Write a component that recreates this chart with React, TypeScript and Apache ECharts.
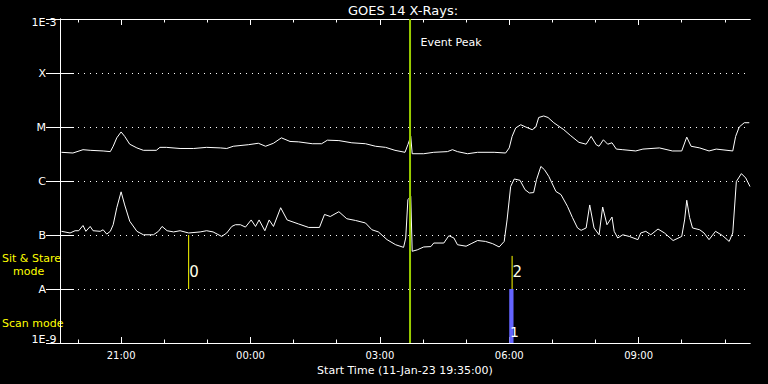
import React, { useEffect, useRef } from 'react';
import * as echarts from 'echarts';

const START_TIME = '19:35';
const SPAN_MINUTES = 960;
const chartTitle = 'GOES 14 X-Rays:';
const xAxisTitle = 'Start Time (11-Jan-23 19:35:00)';
const xMajorTickLabels = ['21:00', '00:00', '03:00', '06:00', '09:00'];
const xMinorTickTimes = ['20:00', '21:00', '22:00', '23:00', '00:00', '01:00', '02:00', '03:00', '04:00', '05:00', '06:00', '07:00', '08:00', '09:00', '10:00', '11:00'];
const yTickLabels = ['1E-9', 'A', 'B', 'C', 'M', 'X', '1E-3'];

// minutes after start time
const longTimes = [2, 18, 32, 42, 60, 70, 74, 79, 85, 90, 97, 107, 116, 134, 139, 148, 167, 186, 204, 223, 232, 241, 262, 276, 286, 297, 308, 320, 332, 351, 364, 372, 388, 406, 425, 439, 453, 466, 480, 484, 488, 490, 506, 520, 539, 546, 553, 567, 581, 604, 620, 625, 629, 634, 641, 648, 657, 662, 666, 673, 679, 687, 701, 710, 722, 732, 739, 746, 750, 756, 762, 768, 774, 783, 801, 811, 834, 852, 865, 872, 878, 890, 903, 913, 936, 940, 945, 952, 959];
const longFlux = [3.4e-6, 3.3e-6, 3.8e-6, 3.7e-6, 3.6e-6, 3.5e-6, 4.4e-6, 6.3e-6, 8.1e-6, 6.7e-6, 4.8e-6, 4.1e-6, 3.7e-6, 3.7e-6, 4.2e-6, 4.2e-6, 4.0e-6, 4.0e-6, 4.2e-6, 4.1e-6, 4.0e-6, 4.4e-6, 4.7e-6, 5.0e-6, 4.4e-6, 5.0e-6, 6.3e-6, 5.4e-6, 5.3e-6, 4.9e-6, 4.9e-6, 5.7e-6, 5.6e-6, 5.1e-6, 4.9e-6, 4.4e-6, 4.2e-6, 3.7e-6, 3.4e-6, 4.7e-6, 6.7e-6, 3.2e-6, 3.2e-6, 3.4e-6, 3.5e-6, 3.8e-6, 3.5e-6, 3.2e-6, 3.4e-6, 3.4e-6, 3.3e-6, 4.1e-6, 6.7e-6, 9.6e-6, 1.1e-5, 1.0e-5, 8.9e-6, 1.0e-5, 1.5e-5, 1.6e-5, 1.5e-5, 1.2e-5, 8.9e-6, 7.0e-6, 5.2e-6, 4.8e-6, 6.7e-6, 4.7e-6, 4.4e-6, 5.8e-6, 4.8e-6, 5.1e-6, 3.9e-6, 3.8e-6, 3.6e-6, 3.9e-6, 4.1e-6, 3.6e-6, 3.6e-6, 6.5e-6, 4.4e-6, 4.1e-6, 3.6e-6, 3.9e-6, 3.6e-6, 6.7e-6, 1.0e-5, 1.2e-5, 1.2e-5];

const shortTimes = [2, 14, 21, 26, 32, 36, 42, 46, 56, 60, 65, 70, 74, 79, 85, 90, 97, 107, 116, 130, 137, 142, 149, 158, 167, 179, 195, 204, 213, 225, 232, 239, 244, 251, 258, 266, 272, 277, 285, 291, 297, 307, 316, 332, 346, 361, 368, 376, 388, 399, 411, 425, 434, 443, 455, 467, 478, 481, 484, 488, 490, 497, 506, 516, 520, 534, 541, 548, 553, 565, 572, 581, 592, 602, 611, 618, 622, 627, 632, 640, 647, 653, 659, 663, 669, 674, 680, 690, 697, 706, 713, 720, 725, 732, 737, 743, 750, 755, 761, 768, 771, 776, 783, 792, 804, 808, 815, 822, 832, 841, 853, 865, 869, 872, 876, 880, 890, 896, 903, 912, 922, 931, 936, 941, 948, 954, 960];
const shortFlux = [1.17e-7, 1.09e-7, 1.2e-7, 1.2e-7, 1.5e-7, 1.17e-7, 1.44e-7, 1.2e-7, 1.17e-7, 1.25e-7, 1.04e-7, 1.17e-7, 1.55e-7, 3.2e-7, 6.3e-7, 3.6e-7, 1.8e-7, 1.17e-7, 1.01e-7, 1.01e-7, 1.17e-7, 1.44e-7, 1.2e-7, 1.14e-7, 1.2e-7, 1.09e-7, 1.14e-7, 1.2e-7, 1.14e-7, 9.4e-8, 1.09e-7, 1.44e-7, 1.55e-7, 1.55e-7, 1.4e-7, 1.9e-7, 1.44e-7, 1.9e-7, 1.2e-7, 1.9e-7, 1.44e-7, 3.2e-7, 1.9e-7, 1.6e-7, 1.38e-7, 1.38e-7, 2.4e-7, 2.2e-7, 2.7e-7, 2.0e-7, 1.86e-7, 1.67e-7, 1.25e-7, 1.14e-7, 8.2e-8, 6.6e-8, 5.9e-8, 8.8e-8, 4.5e-7, 5.2e-7, 5.0e-8, 5.3e-8, 6.0e-8, 6.1e-8, 7.1e-8, 7.1e-8, 9.7e-8, 8.8e-8, 6.6e-8, 6.2e-8, 6.9e-8, 7.9e-8, 7.6e-8, 6.9e-8, 6.0e-8, 7.6e-8, 1.9e-7, 7.9e-7, 1.09e-6, 1.03e-6, 6.9e-7, 6.0e-7, 6.1e-7, 1.06e-6, 1.86e-6, 1.62e-6, 1.22e-6, 6.4e-7, 5.6e-7, 3.4e-7, 2.1e-7, 1.35e-7, 1.22e-7, 1.35e-7, 3.6e-7, 1.35e-7, 1.01e-7, 3.3e-7, 1.55e-7, 2.15e-7, 1.17e-7, 8.8e-8, 1.01e-7, 9.4e-8, 8.2e-8, 1.09e-7, 1.17e-7, 1.01e-7, 1.29e-7, 1.09e-7, 7.9e-8, 9.4e-8, 1.9e-7, 4.4e-7, 2.1e-7, 1.35e-7, 1.25e-7, 1.09e-7, 8.2e-8, 1.17e-7, 9.7e-8, 7.6e-8, 1.09e-7, 9.8e-7, 1.37e-6, 1.14e-6, 7.9e-7];

const eventPeakTime = '03:42';
const eventPeakLabel = 'Event Peak';
const sitStareLabels = ['0', '2'];
const sitStareTimes = ['22:34', '06:04'];
const sitStareFrom = [1e-8, 1e-8];
const sitStareTo = [1e-7, 4.1e-8];
const scanLabels = ['1'];
const scanTimes = ['06:03'];
const scanFrom = [1e-9];
const scanTo = [1e-8];

const FONT = 'DejaVu Sans';

function toMin(hhmm: string): number {
  const [h, m] = hhmm.split(':').map(Number);
  const [sh, sm] = START_TIME.split(':').map(Number);
  return (((h * 60 + m) - (sh * 60 + sm)) % 1440 + 1440) % 1440;
}

export default function App() {
  const ref = useRef<HTMLDivElement>(null);
  useEffect(() => {
    if (!ref.current) return;
    const chart = echarts.init(ref.current, null, { renderer: 'svg' });
    const majorVals = xMajorTickLabels.map(toMin);
    const minorVals = xMinorTickTimes.map(toMin);
    const fmtTime = (v: number) => {
      const [sh, sm] = START_TIME.split(':').map(Number);
      const t = (sh * 60 + sm + Math.round(v)) % 1440;
      const h = Math.floor(t / 60);
      const m = t % 60;
      return `${String(h).padStart(2, '0')}:${String(m).padStart(2, '0')}`;
    };
    const white = '#ffffff';
    const baseX = {
      type: 'value',
      min: 0,
      max: SPAN_MINUTES,
      splitLine: { show: false },
      axisLine: { show: true, lineStyle: { color: white, width: 1 } },
    };
    const peak = toMin(eventPeakTime);
    const series: any[] = [
      {
        type: 'line',
        data: longTimes.map((t, i) => [t, longFlux[i]]),
        symbol: 'none',
        lineStyle: { color: white, width: 1 },
        z: 3,
      },
      {
        type: 'line',
        data: shortTimes.map((t, i) => [t, shortFlux[i]]),
        symbol: 'none',
        lineStyle: { color: white, width: 1 },
        z: 3,
      },
      {
        type: 'line',
        data: [[peak, 1e-9], [peak, 1e-3]],
        symbol: 'none',
        lineStyle: { color: '#99cc00', width: 2 },
        z: 4,
      },
    ];
    sitStareTimes.forEach((t, i) => {
      series.push({
        type: 'line',
        data: [[toMin(t), sitStareFrom[i]], [toMin(t), sitStareTo[i]]],
        symbol: 'none',
        lineStyle: { color: '#ffff00', width: 1 },
        z: 4,
      });
    });
    scanTimes.forEach((t, i) => {
      series.push({
        type: 'line',
        data: [[toMin(t), scanFrom[i]], [toMin(t), scanTo[i]]],
        symbol: 'none',
        lineStyle: { color: '#6464ff', width: 4.3 },
        z: 4,
      });
    });
    const labelData: any[] = [
      {
        value: [peak, 3.6e-4],
        label: { show: true, position: 'right', distance: 10, formatter: eventPeakLabel, color: white, fontSize: 11, fontFamily: FONT, opacity: 1 },
      },
      {
        value: [0, 1e-3],
        label: { show: true, position: 'left', distance: 3, offset: [0, 3.7], formatter: yTickLabels[6], color: white, fontSize: 11, fontFamily: FONT, opacity: 1 },
      },
      {
        value: [0, 1e-9],
        label: { show: true, position: 'left', distance: 3, offset: [0, -3.3], formatter: yTickLabels[0], color: white, fontSize: 11, fontFamily: FONT, opacity: 1 },
      },
    ];
    sitStareTimes.forEach((t, i) => {
      labelData.push({
        value: [toMin(t), 2.1e-8],
        label: { show: true, position: 'right', distance: 0, formatter: sitStareLabels[i], color: '#ffffe8', fontSize: 15, fontFamily: FONT, opacity: 1 },
      });
    });
    scanTimes.forEach((t, i) => {
      labelData.push({
        value: [toMin(t), 1.62e-9],
        label: { show: true, position: 'right', distance: -2, formatter: scanLabels[i], color: white, fontSize: 14, fontFamily: FONT, opacity: 1 },
      });
    });
    series.push({
      type: 'scatter',
      data: labelData,
      symbol: 'circle',
      symbolSize: 1,
      clip: false,
      itemStyle: { color: 'rgba(0,0,0,0)', opacity: 1 },
      z: 5,
    });

    const option: any = {
      animation: false,
      backgroundColor: '#000000',
      grid: { left: 60, right: 18, top: 19, bottom: 41, containLabel: false },
      xAxis: [
        {
          ...baseX,
          position: 'bottom',
          name: xAxisTitle,
          nameLocation: 'middle',
          nameGap: 19,
          nameTextStyle: { color: white, fontSize: 11, fontFamily: FONT },
          axisTick: { show: true, inside: true, length: 6, customValues: majorVals, lineStyle: { color: white } },
          axisLabel: { show: true, customValues: majorVals, formatter: fmtTime, color: white, fontSize: 10, fontFamily: FONT, margin: 7 },
        },
        {
          ...baseX,
          position: 'bottom',
          axisTick: { show: true, inside: true, length: 3.5, customValues: minorVals, lineStyle: { color: white } },
          axisLabel: { show: false },
        },
        {
          ...baseX,
          position: 'top',
          axisTick: { show: true, inside: true, length: 6, customValues: majorVals, lineStyle: { color: white } },
          axisLabel: { show: false },
        },
        {
          ...baseX,
          position: 'top',
          axisTick: { show: true, inside: true, length: 3.5, customValues: minorVals, lineStyle: { color: white } },
          axisLabel: { show: false },
        },
      ],
      yAxis: [
        {
          type: 'log',
          logBase: 10,
          min: 1e-9,
          max: 1e-3,
          splitNumber: 6,
          position: 'left',
          axisLine: { show: true, lineStyle: { color: white, width: 1 } },
          axisTick: { show: true, inside: true, length: 14, lineStyle: { color: white } },
          splitLine: { show: true, lineStyle: { color: white, width: 1, type: [1, 5] } },
          minorTick: { show: false },
          axisLabel: {
            show: true,
            margin: 3,
            color: white,
            fontSize: 11,
            fontFamily: FONT,
            formatter: (v: number) => {
              const idx = Math.round(Math.log10(v)) + 9;
              if (idx <= 0 || idx >= 6) return '';
              return `{let|${yTickLabels[idx] ?? ''}}`;
            },
            rich: {
              let: { padding: [0, 11, 0, 0], color: white, fontSize: 11, fontFamily: FONT },
            },
          },
        },
        {
          type: 'log',
          logBase: 10,
          min: 1e-9,
          max: 1e-3,
          splitNumber: 6,
          position: 'right',
          axisLine: { show: true, lineStyle: { color: white, width: 1 } },
          axisTick: { show: true, inside: true, length: 14, lineStyle: { color: white } },
          splitLine: { show: false },
          axisLabel: { show: false },
        },
      ],
      series,
      graphic: [
        { type: 'text', x: 403, y: 10, style: { text: chartTitle, fill: white, fontSize: 13, fontFamily: FONT, align: 'center', verticalAlign: 'middle' } },
        { type: 'text', x: 2, y: 258.5, style: { text: 'Sit & Stare', fill: '#ffff00', fontSize: 11, fontFamily: FONT, align: 'left', verticalAlign: 'middle' } },
        { type: 'text', x: 13, y: 271.5, style: { text: 'mode', fill: '#ffff00', fontSize: 11, fontFamily: FONT, align: 'left', verticalAlign: 'middle' } },
        { type: 'text', x: 2, y: 323.5, style: { text: 'Scan mode', fill: '#ffff00', fontSize: 11, fontFamily: FONT, align: 'left', verticalAlign: 'middle' } },
      ],
    };
    chart.setOption(option);
    return () => chart.dispose();
  }, []);
  return (
    <div
      ref={ref}
      style={{ position: 'fixed', left: 0, top: 0, width: 768, height: 384, background: '#000' }}
    />
  );
}
